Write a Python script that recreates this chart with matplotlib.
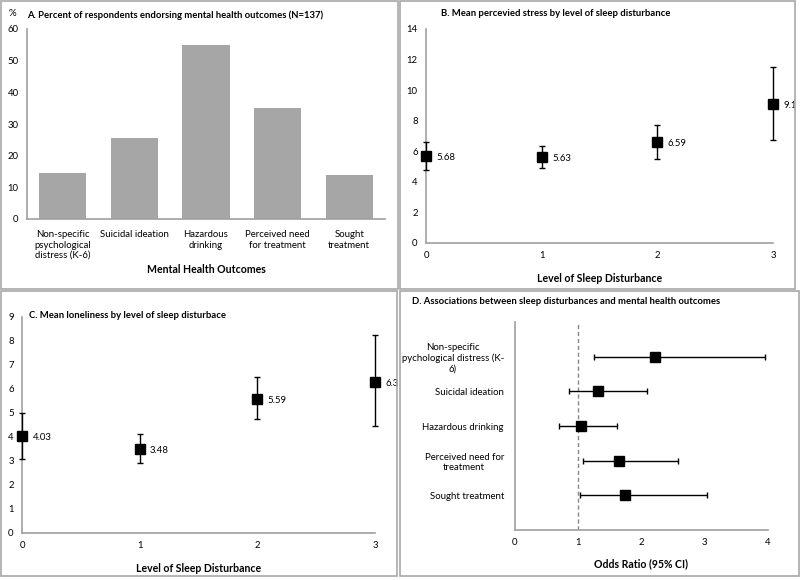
import matplotlib
matplotlib.use("Agg")
import matplotlib.pyplot as plt
from matplotlib.patches import Rectangle

plt.rcParams["font.family"] = ["Lato", "DejaVu Sans"]

# Panel A data
outcomes = ["Non-specific\npsychological\ndistress (K-6)", "Suicidal ideation",
            "Hazardous\ndrinking", "Perceived need\nfor treatment", "Sought\ntreatment"]
percent = [14.5, 25.5, 54.8, 35.0, 13.9]

# Panel B data
levels = [0, 1, 2, 3]
stress_mean = [5.68, 5.63, 6.59, 9.1]
stress_low = [4.78, 4.93, 5.52, 6.75]
stress_high = [6.62, 6.36, 7.72, 11.5]

# Panel C data
lonely_mean = [4.03, 3.48, 5.59, 6.3]
lonely_low = [3.08, 2.92, 4.73, 4.44]
lonely_high = [5.0, 4.11, 6.52, 8.25]

# Panel D data
or_labels = ["Non-specific\npychological distress (K-\n6)", "Suicidal ideation",
             "Hazardous drinking", "Perceived need for\ntreatment", "Sought treatment"]
odds = [2.22, 1.31, 1.05, 1.64, 1.74]
or_low = [1.25, 0.85, 0.69, 1.07, 1.02]
or_high = [3.95, 2.09, 1.62, 2.58, 3.04]

W, H = 800, 580
SPINE = "#a0a0a0"
TICK_FS = 6.9
TITLE_FS = 6.8
LABEL_FS = 7.6


def rect(left, top, right, bottom):
    return [left / W, 1 - bottom / H, (right - left) / W, (bottom - top) / H]


def px(x, y):
    return x / W, 1 - y / H


def style_axes(ax):
    for s in ["top", "right"]:
        ax.spines[s].set_visible(False)
    for s in ["left", "bottom"]:
        ax.spines[s].set_color(SPINE)
        ax.spines[s].set_linewidth(1.2)
    ax.tick_params(length=0, labelsize=TICK_FS, pad=6)


def err_plot(ax, x, mean, low, high):
    yerr = [[m - l for m, l in zip(mean, low)], [h - m for m, h in zip(mean, high)]]
    ax.errorbar(x, mean, yerr=yerr, fmt="s", color="black", ms=7, capsize=2.5,
                elinewidth=1, capthick=1, clip_on=False, zorder=5)
    for xi, m in zip(x, mean):
        ax.annotate(f"{m:g}", (xi, m), xytext=(7.5, -1), textcoords="offset points",
                    fontsize=TICK_FS, va="center", ha="left")


fig = plt.figure(figsize=(W / 100, H / 100), dpi=100)

# panel borders
for l, t, r, b in [(1, 1, 398, 289), (400, 1, 795, 289), (1, 291, 397, 576), (400, 291, 799, 576)]:
    fig.patches.append(Rectangle(px(l, b), (r - l) / W, (b - t) / H, transform=fig.transFigure,
                                 fill=False, edgecolor="#a8a8a8", linewidth=1.2))

# A: bar chart
axA = fig.add_axes(rect(27, 29, 385, 219))
style_axes(axA)
axA.bar(range(len(outcomes)), percent, width=0.66, color="#a6a6a6")
axA.set_xlim(-0.5, len(outcomes) - 0.5)
axA.set_ylim(0, 60)
axA.set_yticks(range(0, 61, 10))
axA.set_xticks(range(len(outcomes)), outcomes, multialignment="center")
axA.tick_params(axis="x", pad=8)
axA.set_xlabel("Mental Health Outcomes", fontsize=LABEL_FS, fontweight="bold", labelpad=3)
fig.text(*px(9, 14), "%", fontsize=TICK_FS, va="center")
fig.text(*px(27, 15), "A. Percent of respondents endorsing mental health outcomes (N=137)",
         fontsize=TITLE_FS, fontweight="bold", va="center")

# B: perceived stress
axB = fig.add_axes(rect(426, 29, 773, 243))
style_axes(axB)
err_plot(axB, levels, stress_mean, stress_low, stress_high)
axB.set_xlim(0, 3)
axB.set_ylim(0, 14)
axB.set_yticks(range(0, 15, 2))
axB.set_xticks(levels)
axB.set_xlabel("Level of Sleep Disturbance", fontsize=LABEL_FS, fontweight="bold", labelpad=9)
fig.text(*px(441, 14), "B. Mean percevied stress by level of sleep disturbance",
         fontsize=TITLE_FS, fontweight="bold", va="center")

# C: loneliness
axC = fig.add_axes(rect(22, 317, 375, 533))
style_axes(axC)
err_plot(axC, levels, lonely_mean, lonely_low, lonely_high)
axC.set_xlim(0, 3)
axC.set_ylim(0, 9)
axC.set_yticks(range(0, 10))
axC.set_xticks(levels)
axC.set_xlabel("Level of Sleep Disturbance", fontsize=LABEL_FS, fontweight="bold", labelpad=9)
fig.text(*px(29, 315), "C. Mean loneliness by level of sleep disturbace",
         fontsize=TITLE_FS, fontweight="bold", va="center")

# D: odds ratios
axD = fig.add_axes(rect(515, 322, 768, 530))
style_axes(axD)
ypos = list(range(1, len(or_labels) + 1))
axD.errorbar(odds, ypos, xerr=[[o - l for o, l in zip(odds, or_low)],
                               [h - o for o, h in zip(odds, or_high)]],
             fmt="s", color="black", ms=7, capsize=2.5, elinewidth=1, capthick=1, zorder=5)
axD.axvline(1, color="#888888", linestyle=(0, (3, 2)), linewidth=1)
axD.set_xlim(0, 4)
axD.set_ylim(6, 0)
axD.set_xticks(range(0, 5))
axD.set_yticks(ypos, or_labels, multialignment="center")
axD.tick_params(axis="y", pad=8)
axD.set_xlabel("Odds Ratio (95% CI)", fontsize=LABEL_FS, fontweight="bold", labelpad=8)
fig.text(*px(412, 301), "D. Associations between sleep disturbances and mental health outcomes",
         fontsize=TITLE_FS, fontweight="bold", va="center")

fig.savefig("out.png", dpi=100)
